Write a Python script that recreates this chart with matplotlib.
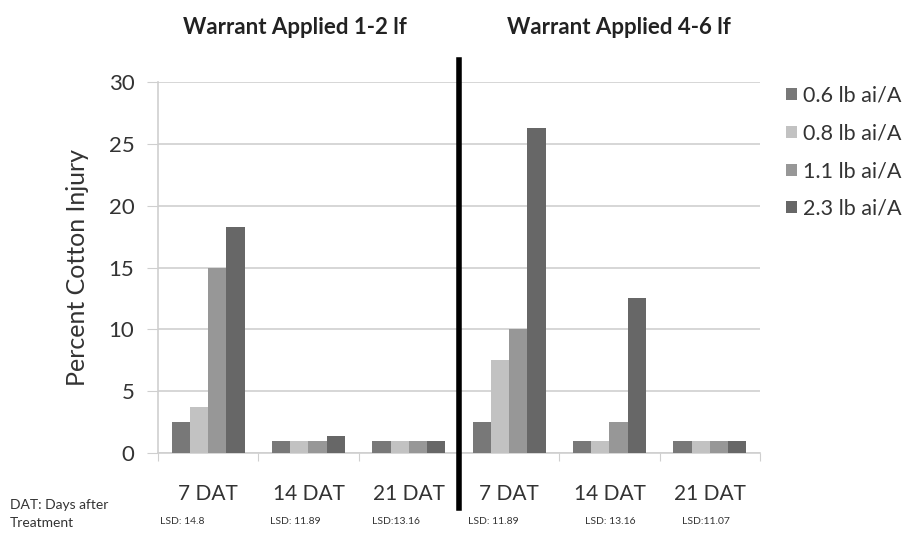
import numpy as np
import matplotlib
matplotlib.use("Agg")
import matplotlib.pyplot as plt

plt.rcParams['font.family'] = ['Lato', 'DejaVu Sans']

# data
categories = ['7 DAT', '14 DAT', '21 DAT', '7 DAT', '14 DAT', '21 DAT']
rates = ['0.6 lb ai/A', '0.8 lb ai/A', '1.1 lb ai/A', '2.3 lb ai/A']
inj_06 = [2.5, 1.0, 1.0, 2.5, 1.0, 1.0]
inj_08 = [3.75, 1.0, 1.0, 7.5, 1.0, 1.0]
inj_11 = [15.0, 1.0, 1.0, 10.0, 2.5, 1.0]
inj_23 = [18.3, 1.4, 1.0, 26.3, 12.5, 1.0]
lsd_labels = ['LSD: 14.8', 'LSD: 11.89', 'LSD:13.16', 'LSD: 11.89', 'LSD: 13.16', 'LSD:11.07']
titles = ['Warrant Applied 1-2 lf', 'Warrant Applied 4-6 lf']

colors = ['#787878', '#c2c2c2', '#979797', '#676767']
series = [inj_06, inj_08, inj_11, inj_23]

fig = plt.figure(figsize=(9.08, 5.34), dpi=100)
ax = fig.add_axes([0.174, 0.1517, 0.663, 0.6947])

x = np.arange(len(categories))
w = 0.182
for i, (vals, c, lab) in enumerate(zip(series, colors, rates)):
    ax.bar(x + (i - 1.5) * w, vals, w, color=c, label=lab, zorder=3)

ax.set_xlim(-0.5, 5.5)
ax.set_ylim(0, 30)
ax.set_yticks(range(0, 31, 5))
ax.yaxis.grid(True, color='#cfcfcf', linewidth=1.2, zorder=0)
ax.tick_params(axis='y', length=8, color='#cfcfcf', labelsize=16, labelcolor='#333333', pad=9)

# category ticks at boundaries, labels at centers
ax.set_xticks(np.arange(-0.5, 6.0, 1.0))
ax.set_xticklabels([])
ax.set_xticks(x, minor=True)
ax.set_xticklabels(categories, minor=True, fontsize=15, color='#333333')
ax.tick_params(axis='x', which='major', length=6, color='#cfcfcf', direction='out')
ax.tick_params(axis='x', which='minor', length=0, pad=22)

for s in ['top', 'right']:
    ax.spines[s].set_visible(False)
for s in ['left', 'bottom']:
    ax.spines[s].set_color('#cfcfcf')
    ax.spines[s].set_linewidth(1.2)

ax.set_ylabel('Percent Cotton Injury', fontsize=18, color='#333333', labelpad=14)

# black divider between the two timings
ax.plot([2.5, 2.5], [-0.148, 1.059], color='black', linewidth=4,
        transform=ax.get_xaxis_transform(), clip_on=False, zorder=5)

fig.text(295 / 908, 1 - 27 / 534, titles[0], ha='center', va='center', fontsize=16, fontweight='bold', color='#222222')
fig.text(619 / 908, 1 - 27 / 534, titles[1], ha='center', va='center', fontsize=16, fontweight='bold', color='#222222')

lsd_x = [160, 270, 372, 468, 585, 682]
for px, lab in zip(lsd_x, lsd_labels):
    fig.text(px / 908, 1 - 521 / 534, lab, ha='left', va='center', fontsize=7.5, color='#333333')
fig.text(10 / 908, 1 - 514 / 534, 'DAT: Days after\nTreatment', ha='left', va='center',
         fontsize=10, color='#333333', linespacing=1.55)

leg = ax.legend(loc='upper left', bbox_to_anchor=(786 / 908, 1 - 86 / 534), bbox_transform=fig.transFigure,
                frameon=False, fontsize=15.5, borderpad=0, borderaxespad=0,
                handlelength=0.5, handleheight=0.5, handletextpad=0.3, labelspacing=0.82,
                labelcolor='#333333')

fig.savefig('out.png', dpi=100, facecolor='white')
